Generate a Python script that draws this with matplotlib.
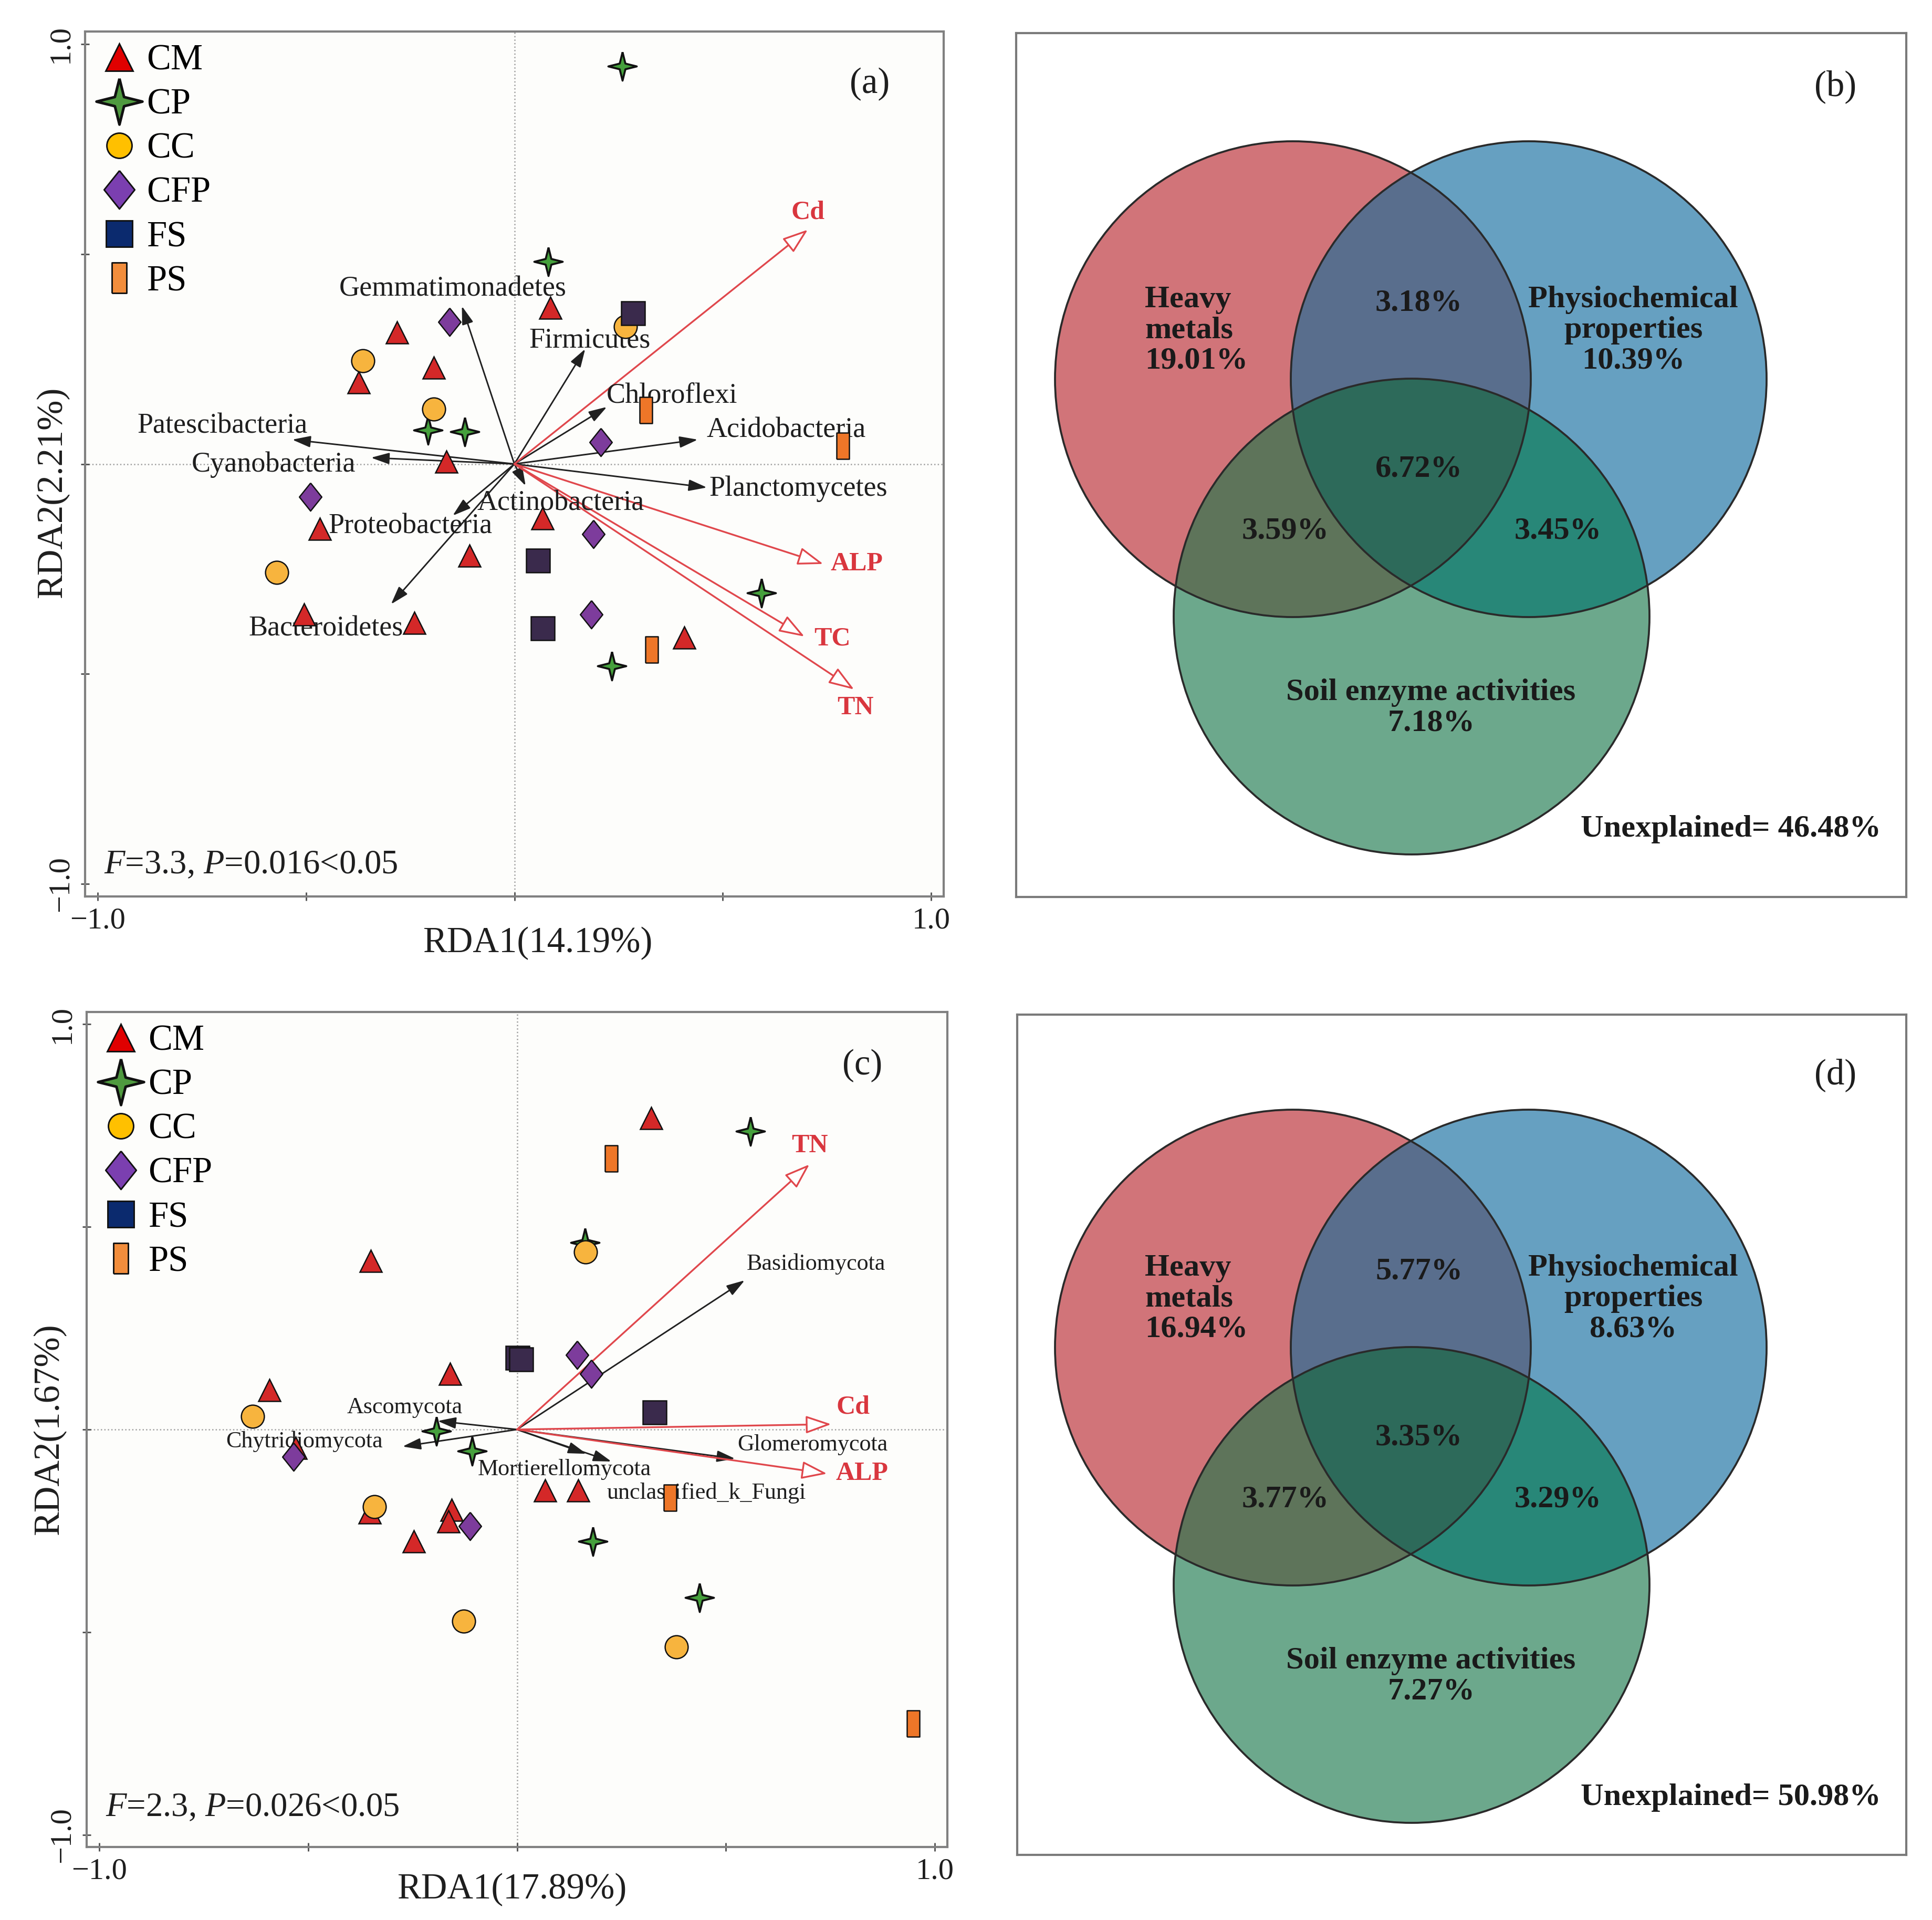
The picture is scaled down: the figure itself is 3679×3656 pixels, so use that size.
import numpy as np
import matplotlib
matplotlib.use('Agg')
import matplotlib.pyplot as plt
from matplotlib.lines import Line2D
from matplotlib.patches import Circle
from matplotlib.colors import to_rgb

plt.rcParams['font.family'] = 'Liberation Serif'
plt.rcParams['mathtext.fontset'] = 'custom'
plt.rcParams['mathtext.rm'] = 'Liberation Serif'
plt.rcParams['mathtext.it'] = 'Liberation Serif:italic'

W, H, DPI = 3679, 3656, 300

# ---------------- data: panel (a) bacteria RDA ----------------
a_cm = [(0.086, 0.372), (-0.281, 0.313), (-0.193, 0.229), (-0.373, 0.195), (-0.163, 0.006),
        (0.067, -0.130), (-0.467, -0.155), (-0.108, -0.218), (-0.504, -0.358), (-0.240, -0.378),
        (0.407, -0.414)]
a_cp = [(0.259, 0.947), (0.081, 0.482), (-0.207, 0.081), (-0.119, 0.077), (0.593, -0.307), (0.234, -0.481)]
a_cc = [(0.267, 0.327), (-0.363, 0.246), (-0.193, 0.131), (-0.570, -0.258)]
a_cfp = [(-0.156, 0.338), (0.207, 0.052), (-0.489, -0.078), (0.190, -0.167), (0.185, -0.358)]
a_fs = [(0.284, 0.360), (0.056, -0.230), (0.068, -0.391)]
a_ps = [(0.316, 0.128), (0.788, 0.043), (0.329, -0.442)]

a_species = ['Gemmatimonadetes', 'Firmicutes', 'Chloroflexi', 'Acidobacteria', 'Planctomycetes',
             'Actinobacteria', 'Proteobacteria', 'Bacteroidetes', 'Patescibacteria', 'Cyanobacteria']
a_species_x = [-0.126, 0.170, 0.222, 0.440, 0.462, 0.027, -0.148, -0.296, -0.533, -0.344]
a_species_y = [0.376, 0.274, 0.136, 0.058, -0.056, -0.052, -0.123, -0.334, 0.058, 0.015]
a_env = ['Cd', 'ALP', 'TC', 'TN']
a_env_x = [0.704, 0.741, 0.696, 0.815]
a_env_y = [0.558, -0.238, -0.411, -0.537]

# label placement (centre of text)
a_species_lab = [(-0.148, 0.417), (0.181, 0.294), (0.378, 0.163), (0.652, 0.080), (0.681, -0.059),
                 (0.111, -0.093), (-0.249, -0.149), (-0.452, -0.392), (-0.701, 0.090), (-0.578, -0.001)]
a_env_lab = [(0.704, 0.599), (0.822, -0.238), (0.763, -0.416), (0.818, -0.581)]

# ---------------- data: panel (c) fungi RDA ----------------
c_cm = [(0.321, 0.768), (-0.350, 0.416), (-0.160, 0.137), (-0.593, 0.097), (-0.530, -0.045),
        (0.067, -0.150), (0.147, -0.150), (-0.157, -0.198), (-0.164, -0.227), (-0.353, -0.205),
        (-0.247, -0.276)]
c_cp = [(0.559, 0.736), (0.163, 0.461), (-0.193, -0.004), (-0.108, -0.053), (0.182, -0.276), (0.437, -0.415)]
c_cc = [(0.164, 0.438), (-0.633, 0.033), (-0.341, -0.190), (-0.127, -0.473), (0.381, -0.536)]
c_cfp = [(0.144, 0.184), (0.178, 0.137), (-0.535, -0.068), (-0.113, -0.239)]
c_fs = [(0.0, 0.178), (0.010, 0.174), (0.329, 0.043)]
c_ps = [(0.225, 0.669), (0.366, -0.168), (0.948, -0.725)]

c_species = ['Basidiomycota', 'Ascomycota', 'Chytridiomycota', 'Mortierellomycota',
             'unclassified_k_Fungi', 'Glomeromycota']
c_species_x = [0.545, -0.190, -0.274, 0.166, 0.226, 0.522]
c_species_y = [0.368, 0.021, -0.042, -0.060, -0.079, -0.072]
c_env = ['TN', 'Cd', 'ALP']
c_env_x = [0.700, 0.752, 0.742]
c_env_y = [0.654, 0.013, -0.109]

c_species_lab = [(0.715, 0.408), (-0.269, 0.055), (-0.509, -0.030), (0.114, -0.098),
                 (0.453, -0.156), (0.708, -0.037)]
c_env_lab = [(0.700, 0.700), (0.804, 0.055), (0.826, -0.109)]

# ---------------- data: variation partitioning ----------------
venn_sets = ['Heavy\nmetals', 'Physiochemical\nproperties', 'Soil enzyme activities']
# order: heavy, physio, enzyme, heavy&physio, heavy&enzyme, physio&enzyme, all three
b_values = [19.01, 10.39, 7.18, 3.18, 3.59, 3.45, 6.72]
b_unexplained = 46.48
d_values = [16.94, 8.63, 7.27, 5.77, 3.77, 3.29, 3.35]
d_unexplained = 50.98

groups = ['CM', 'CP', 'CC', 'CFP', 'FS', 'PS']

# ---------------- marker styles ----------------
r_in = 0.2
star = [(0, 1), (r_in, r_in), (1, 0), (r_in, -r_in), (0, -1), (-r_in, -r_in), (-1, 0), (-r_in, r_in), (0, 1)]
diamond = [(0, 1), (0.8, 0), (0, -1), (-0.8, 0), (0, 1)]
tallrect = [(-0.47, -1), (0.47, -1), (0.47, 1), (-0.47, 1), (-0.47, -1)]

markers = ['^', star, 'o', diamond, 's', tallrect]
plot_colors = ['#d42828', '#45a03c', '#f7b43e', '#7d3c9c', '#3a2a4c', '#ee7628']
plot_sizes = [10, 13, 10.5, 12.8, 10.8, 12]
leg_colors = ['#e00000', '#4f9a3f', '#ffc000', '#7b3fb0', '#0b2a6e', '#f28d3c']
leg_sizes = [12.5, 21, 11.5, 17.5, 11.8, 14]

fig = plt.figure(figsize=(W / DPI, H / DPI), dpi=DPI)


def add_ax(l, t, r, b):
    return fig.add_axes([l / W, 1 - b / H, (r - l) / W, (b - t) / H])


def rda_panel(ax, pts, sp, sp_x, sp_y, sp_lab, sp_fs, env, env_x, env_y, env_lab, stat, tag, tag_xy):
    ax.set_facecolor('#fdfdfb')
    ax.set_xlim(-1.03, 1.03)
    ax.set_ylim(-1.03, 1.03)
    ax.axhline(0, color='#a0a0a0', lw=0.6, ls=':', zorder=0)
    ax.axvline(0, color='#a0a0a0', lw=0.6, ls=':', zorder=0)

    for x, y in zip(sp_x, sp_y):
        ax.annotate('', xy=(x, y), xytext=(0, 0),
                    arrowprops=dict(arrowstyle='-|>,head_length=0.7,head_width=0.22',
                                    color='#202020', lw=0.7, mutation_scale=10,
                                    shrinkA=0, shrinkB=0), zorder=2)
    for x, y in zip(env_x, env_y):
        ax.annotate('', xy=(x, y), xytext=(0, 0),
                    arrowprops=dict(arrowstyle='-|>,head_length=1.0,head_width=0.35',
                                    fc='white', ec='#e0474c', lw=0.8, mutation_scale=10,
                                    shrinkA=0, shrinkB=0), zorder=2)

    for name, (lx, ly) in zip(sp, sp_lab):
        ax.text(lx, ly, name, ha='center', va='center', fontsize=sp_fs, color='#1e1e1e', zorder=3)
    for name, (lx, ly) in zip(env, env_lab):
        ax.text(lx, ly, name, ha='center', va='center', fontsize=12, color='#d9363e',
                fontweight='bold', zorder=3)

    for g, p, m, c, s in zip(groups, pts, markers, plot_colors, plot_sizes):
        p = np.array(p)
        ax.plot(p[:, 0], p[:, 1], ls='none', marker=m, ms=s, mfc=c, mec='#111111',
                mew=0.6 if g != 'CP' else 0.9, zorder=4)

    handles = [Line2D([], [], ls='none', marker=m, ms=s, mfc=c, mec='#111111',
                      mew=0.7 if m is not star else 1.2)
               for m, c, s in zip(markers, leg_colors, leg_sizes)]
    ax.legend(handles, groups, loc='upper left', frameon=False, fontsize=16.5,
              handlelength=1.2, handletextpad=0.15, labelspacing=0.3,
              borderaxespad=0.1, borderpad=0.25)

    ax.text(-0.985, stat[2], r'$\mathit{F}$=%s, $\mathit{P}$=%s<0.05' % (stat[0], stat[1]),
            ha='left', va='center', fontsize=15.5, color='#1e1e1e')
    ax.text(tag_xy[0], tag_xy[1], tag, ha='center', va='center', fontsize=16.5, color='#1e1e1e')

    ticks = [-1, -0.5, 0, 0.5, 1]
    labels = ['\u22121.0', '', '', '', '1.0']
    ax.set_xticks(ticks)
    ax.set_xticklabels(labels)
    ax.set_yticks(ticks)
    ax.set_yticklabels(labels, rotation=90, va='center')
    ax.tick_params(direction='inout', length=4, width=0.7, color='#555555',
                   labelsize=14, pad=3, labelcolor='#1e1e1e')
    for s in ax.spines.values():
        s.set_color('#808080')
        s.set_linewidth(1.0)


def venn_panel(ax, box, centers, rad, vals, unexpl, dy, tag, tag_y):
    l, t, r, b = box
    xs = np.arange(l, r) + 0.5
    ys = np.arange(t, b) + 0.5
    X, Y = np.meshgrid(xs, ys)
    code = np.zeros(X.shape, dtype=int)
    for k, (cx, cy) in enumerate(centers):
        code += (((X - cx) ** 2 + (Y - cy) ** 2) <= rad ** 2).astype(int) * (1 << k)
    region_colors = ['#ffffff', '#d17479', '#66a0c1', '#596e8d',
                     '#6ca88c', '#5e745a', '#288778', '#2d6a5a']
    lut = np.array([to_rgb(c) for c in region_colors])
    ax.imshow(lut[code], extent=(l, r, b, t), origin='upper', interpolation='nearest', zorder=0)
    ax.set_xlim(l, r)
    ax.set_ylim(b, t)
    ax.set_aspect('auto')
    for cx, cy in centers:
        ax.add_patch(Circle((cx, cy), rad, fill=False, ec='#2a2a2a', lw=0.9, zorder=2))

    kw = dict(fontsize=14.5, fontweight='bold', color='#1a1a1a', zorder=3, linespacing=1.1)
    ax.text(2180, 629 + dy, '%s\n%.2f%%' % (venn_sets[0], vals[0]), ha='left', va='center',
            multialignment='left', **kw)
    ax.text(3110, 629 + dy, '%s\n%.2f%%' % (venn_sets[1], vals[1]), ha='center', va='center',
            multialignment='center', **kw)
    ax.text(2725, 1348 + dy, '%s\n%.2f%%' % (venn_sets[2], vals[2]), ha='center', va='center',
            multialignment='center', **kw)
    ax.text(2702, 578 + dy, '%.2f%%' % vals[3], ha='center', va='center', **kw)
    ax.text(2448, 1012 + dy, '%.2f%%' % vals[4], ha='center', va='center', **kw)
    ax.text(2967, 1012 + dy, '%.2f%%' % vals[5], ha='center', va='center', **kw)
    ax.text(2702, 894 + dy, '%.2f%%' % vals[6], ha='center', va='center', **kw)
    ax.text(3582, 1579 + dy, 'Unexplained= %.2f%%' % unexpl, ha='right', va='center', **kw)
    ax.text(3495, tag_y, tag, ha='center', va='center', fontsize=16.5, color='#1e1e1e')

    ax.set_xticks([])
    ax.set_yticks([])
    for s in ax.spines.values():
        s.set_color('#7a7a7a')
        s.set_linewidth(1.0)


# panel (a)
ax_a = add_ax(162, 60, 1797, 1707)
rda_panel(ax_a, [a_cm, a_cp, a_cc, a_cfp, a_fs, a_ps],
          a_species, a_species_x, a_species_y, a_species_lab, 13,
          a_env, a_env_x, a_env_y, a_env_lab, ('3.3', '0.016', -0.956), '(a)', (0.852, 0.905))
fig.text(1024 / W, 1 - 1796 / H, 'RDA1(14.19%)', ha='center', va='center', fontsize=16.5, color='#1e1e1e')
fig.text(100 / W, 1 - 938 / H, 'RDA2(2.21%)', ha='center', va='center', rotation=90,
         fontsize=16.5, color='#1e1e1e')

# panel (c)
ax_c = add_ax(165, 1927, 1804, 3517)
rda_panel(ax_c, [c_cm, c_cp, c_cc, c_cfp, c_fs, c_ps],
          c_species, c_species_x, c_species_y, c_species_lab, 10.6,
          c_env, c_env_x, c_env_y, c_env_lab, ('2.3', '0.026', -0.933), '(c)', (0.826, 0.897))
fig.text(975 / W, 1 - 3598 / H, 'RDA1(17.89%)', ha='center', va='center', fontsize=16.5, color='#1e1e1e')
fig.text(94 / W, 1 - 2722 / H, 'RDA2(1.67%)', ha='center', va='center', rotation=90,
         fontsize=16.5, color='#1e1e1e')

# panels (b) and (d)
venn_r = 453
venn_centers = [(2462, 722), (2911, 722), (2688, 1174)]
box_b = (1935, 63, 3630, 1708)
ax_b = add_ax(*box_b)
venn_panel(ax_b, box_b, venn_centers, venn_r, b_values, b_unexplained, 0, '(b)', 165)

shift = 1844
box_d = (1937, 1932, 3630, 3532)
ax_d = add_ax(*box_d)
venn_panel(ax_d, box_d, [(x, y + shift) for x, y in venn_centers], venn_r,
           d_values, d_unexplained, shift, '(d)', 2047)

fig.savefig('out.png', dpi=DPI, facecolor='white')
